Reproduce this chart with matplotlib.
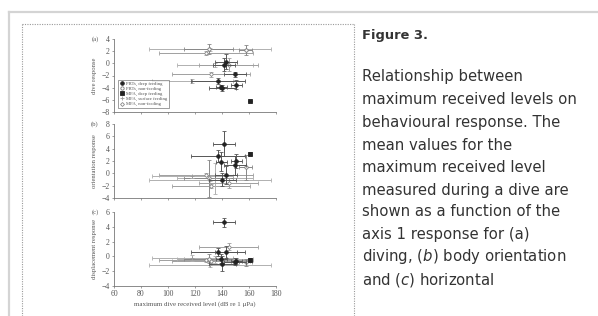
import matplotlib
matplotlib.use("Agg")
import matplotlib.pyplot as plt
from matplotlib.lines import Line2D
import numpy as np

plt.rcParams['mathtext.fontset'] = 'custom'
plt.rcParams['mathtext.it'] = 'DejaVu Sans:italic'
plt.rcParams['mathtext.rm'] = 'DejaVu Sans'

# ---------------- data ----------------
categories = ["PRTs, deep feeding", "PRTs, non-feeding", "MFA, deep feeding",
              "MFA, surface feeding", "MFA, non-feeding"]
point_cat = [2, 0, 0, 0, 0, 0, 0, 0, 3, 4, 4, 3, 1, 1, 4, 3]
max_rl = [160.5, 141.5, 137.0, 139.5, 150.5, 149.5, 143.0, 140.0,
          131.0, 128.0, 132.0, 135.0, 157.5, 130.0, 145.0, 118.0]
max_rl_err = [0.8, 8, 20, 4, 4, 8, 8, 10, 45, 35, 29, 28, 5, 18, 22, 30]

dive_resp = [-6.2, -0.2, -2.9, -3.9, -3.5, -1.8, 0.3, -4.0,
             2.3, 1.7, -1.8, -0.3, 2.2, 2.3, -0.2, -2.9]
dive_err = [0, 1.0, 0.5, 0.4, 0.8, 0.4, 1.2, 0.5,
            0.3, 0.4, 0.4, 0.3, 0.8, 0.8, 1.0, 0.3]
orient_resp = [3.2, 4.8, 2.8, 1.9, 2.0, 1.3, -0.3, -1.0,
               -1.0, -0.2, -2.0, -0.8, 1.0, -0.8, -1.5, -0.5]
orient_err = [0.2, 2.0, 1.0, 1.5, 1.2, 1.5, 1.5, 1.0,
              0.3, 0.3, 0.3, 2.5, 2.0, 3.0, 0.8, 0.3]
disp_resp = [-0.45, 4.6, 0.6, -0.3, -0.6, -0.7, 0.6, -1.0,
             -1.1, -0.5, -0.6, -0.4, -0.8, -0.3, 1.3, -0.2]
disp_err = [0.2, 0.6, 0.5, 0.6, 0.4, 0.5, 0.8, 1.0,
            0.3, 0.3, 0.3, 0.5, 0.5, 0.6, 0.5, 0.4]

panel_labels = ["(a)", "(b)", "(c)"]
ylabels = ["dive response", "orientation response", "displacement response"]
ylims = [(-8, 4), (-4, 8), (-4, 6)]
xticks = [60, 80, 100, 120, 140, 160, 180]
xlabel = "maximum dive received level (dB re 1 μPa)"

caption_title = "Figure 3."
caption_lines = ["Relationship between",
                 "maximum received levels on",
                 "behavioural response. The",
                 "mean values for the",
                 "maximum received level",
                 "measured during a dive are",
                 "shown as a function of the",
                 "axis 1 response for (a)",
                 r"diving, ($\mathit{b}$) body orientation",
                 r"and ($\mathit{c}$) horizontal"]

# ---------------- styles ----------------
cat_style = [
    dict(marker='o', mfc='#222222', mec='#222222', ms=2.6, ecol='#555555'),
    dict(marker='o', mfc='white', mec='#777777', ms=2.4, ecol='#888888'),
    dict(marker='s', mfc='#222222', mec='#222222', ms=2.8, ecol='#555555'),
    dict(marker='+', mfc='#999999', mec='#999999', ms=2.6, ecol='#b0b0b0'),
    dict(marker='D', mfc='white', mec='#888888', ms=2.0, ecol='#a0a0a0'),
]

W, H = 598, 316
fig = plt.figure(figsize=(W / 100, H / 100), dpi=100)
fig.patch.set_facecolor('white')

def fx(px):
    return px / W

def fy(py):
    return 1 - py / H

# page decorations
fig.add_artist(Line2D([fx(9), fx(598)], [fy(11.5), fy(11.5)], color='#d4d4d4', lw=1.6))
fig.add_artist(Line2D([fx(9), fx(9)], [fy(11.5), fy(316)], color='#d4d4d4', lw=1.6))
dot = dict(color='#9a9a9a', lw=0.8, ls=(0, (1, 1.2)))
fig.add_artist(Line2D([fx(22), fx(354)], [fy(24), fy(24)], **dot))
fig.add_artist(Line2D([fx(22), fx(22)], [fy(24), fy(316)], **dot))
fig.add_artist(Line2D([fx(354), fx(354)], [fy(24), fy(316)], **dot))

# caption text
fig.text(fx(362), fy(35), caption_title, fontsize=9.4, fontweight='bold',
         color='#333333', va='center', ha='left', family='DejaVu Sans')
line_y = [77, 100, 122, 145, 167, 190, 212, 235, 257, 280]
for yy, t in zip(line_y, caption_lines):
    fig.text(fx(362), fy(yy), t, fontsize=10.7, color='#333333',
             va='center', ha='left', family='DejaVu Sans')

# panels
panel_px = [(39, 112), (124, 198), (212, 286)]
ys = [dive_resp, orient_resp, disp_resp]
yerrs = [dive_err, orient_err, disp_err]
serif = 'Liberation Serif'
axcol = '#777777'
txtcol = '#555555'
for i, (top, bot) in enumerate(panel_px):
    ax = fig.add_axes([fx(114), fy(bot), fx(276) - fx(114), (bot - top) / H])
    ax.set_xlim(60, 180)
    ax.set_ylim(*ylims[i])
    for s in ['top', 'right']:
        ax.spines[s].set_visible(False)
    for s in ['left', 'bottom']:
        ax.spines[s].set_color(axcol)
        ax.spines[s].set_linewidth(0.6)
    ax.set_xticks(xticks)
    ax.set_yticks(np.arange(ylims[i][0], ylims[i][1] + 1, 2))
    ax.tick_params(length=1.5, width=0.5, color=axcol, labelsize=5.6,
                   labelcolor=txtcol, pad=1.5)
    for lab in ax.get_xticklabels() + ax.get_yticklabels():
        lab.set_family(serif)
    if i < 2:
        ax.set_xticklabels([])
    else:
        ax.set_xlabel(xlabel, fontsize=5.0, family=serif, color=txtcol, labelpad=2)
    ax.set_ylabel(ylabels[i], fontsize=4.8, family=serif, color=txtcol, labelpad=3)
    ax.text(-0.095, 1.0, panel_labels[i], transform=ax.transAxes, fontsize=4.8,
            family=serif, color=txtcol, ha='right', va='center')
    order = sorted(range(len(max_rl)), key=lambda k: 0 if point_cat[k] in (1, 3, 4) else 1)
    for k in order:
        st = cat_style[point_cat[k]]
        ax.errorbar(max_rl[k], ys[i][k], xerr=max_rl_err[k], yerr=yerrs[i][k],
                    fmt=st['marker'], mfc=st['mfc'], mec=st['mec'], ms=st['ms'],
                    mew=0.6, ecolor=st['ecol'], elinewidth=0.7, capsize=1.2,
                    capthick=0.6, zorder=3 if point_cat[k] in (0, 2) else 2)
    if i == 0:
        handles = [Line2D([], [], ls='none', marker=st['marker'], mfc=st['mfc'],
                          mec=st['mec'], ms=st['ms'], mew=0.6) for st in cat_style]
        leg = ax.legend(handles, categories, loc='lower left',
                        prop={'family': serif, 'size': 3.4}, frameon=True,
                        fancybox=False, borderpad=0.4, handlelength=0.8,
                        handletextpad=0.5, labelspacing=0.15,
                        bbox_to_anchor=(0.01, 0.02))
        leg.get_frame().set_edgecolor('#555555')
        leg.get_frame().set_linewidth(0.5)
        for t in leg.get_texts():
            t.set_color(txtcol)

fig.savefig("out.png", dpi=100, facecolor='white')
